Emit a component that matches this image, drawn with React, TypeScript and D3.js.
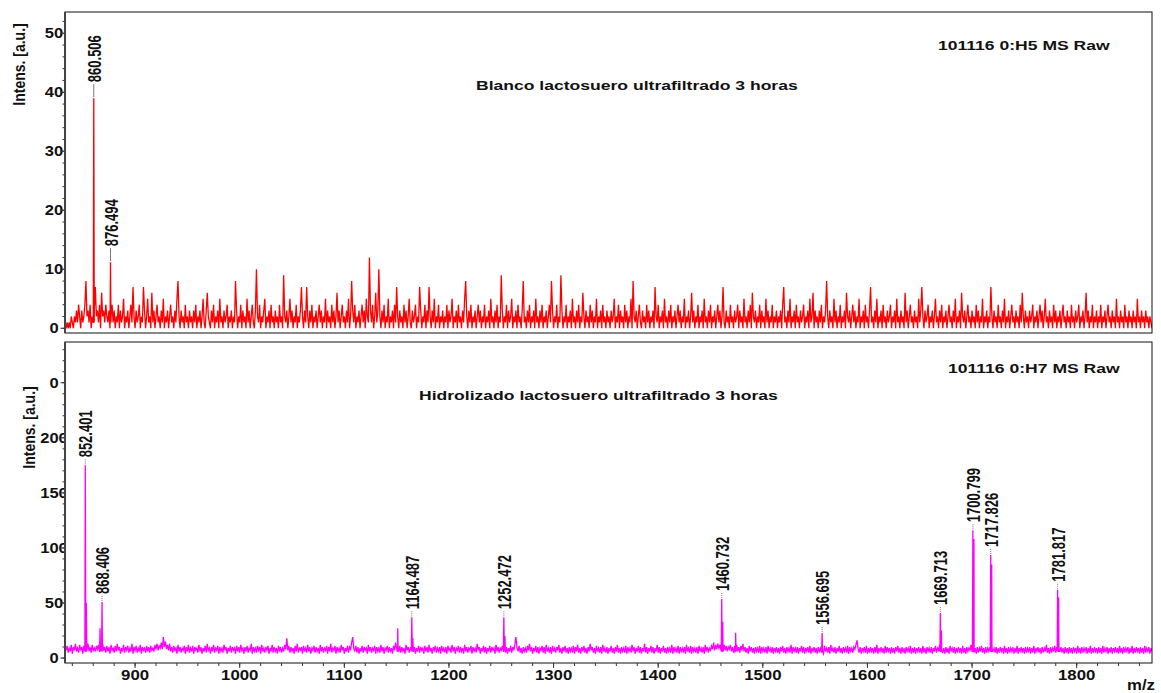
import React from "react";
import * as d3 from "d3";

const W = 1161;
const H = 693;

// Raw noise traces, one value per m/z unit starting at 834
const MZ_START = 834;
const MZ_STEP = 1;

const blancoNoise = [
  0, 1, 0, 1, 0, 2, 1, 0, 2, 1, 3, 1, 4, 2, 0, 3, 1, 2, 4, 8, 2, 3, 1, 4, 0, 2, 1, 3, 7, 2, 3, 1, 4, 0, 6, 2, 3, 1, 4, 2,
  1, 3, 0, 2, 4, 1, 3, 0, 2, 1, 4, 0, 3, 1, 2, 5, 0, 2, 1, 3, 0, 2, 4, 1, 7, 2, 0, 3, 1, 2, 4, 0, 2, 1, 7, 3, 0, 2, 5, 1,
  2, 0, 6, 1, 3, 0, 2, 4, 1, 2, 0, 3, 1, 5, 0, 2, 1, 3, 0, 2, 4, 1, 2, 0, 3, 1, 5, 8, 2, 0, 3, 1, 2, 0, 4, 1, 2, 0, 3, 1,
  2, 0, 3, 1, 4, 0, 2, 1, 3, 0, 2, 5, 1, 0, 3, 6, 2, 1, 0, 3, 1, 4, 0, 2, 1, 3, 0, 5, 1, 2, 0, 3, 1, 2, 4, 0, 2, 1, 3, 0,
  2, 1, 8, 3, 0, 2, 1, 4, 0, 3, 1, 2, 0, 5, 1, 3, 0, 2, 4, 1, 0, 3, 10, 2, 1, 4, 0, 2, 1, 3, 5, 0, 2, 1, 3, 0, 4, 1, 2, 0,
  3, 1, 2, 0, 4, 1, 2, 0, 9, 2, 1, 3, 0, 2, 5, 1, 3, 0, 2, 1, 4, 0, 2, 1, 3, 7, 2, 0, 3, 1, 7, 2, 0, 3, 1, 4, 0, 2, 1, 3,
  0, 2, 4, 1, 3, 0, 2, 1, 5, 0, 3, 1, 2, 0, 4, 1, 3, 0, 2, 6, 1, 3, 0, 2, 4, 1, 2, 0, 3, 1, 5, 0, 2, 8, 3, 1, 4, 0, 2, 1,
  3, 0, 2, 4, 1, 3, 0, 5, 2, 1, 12, 3, 1, 4, 0, 2, 6, 1, 3, 10, 2, 0, 3, 1, 4, 0, 2, 1, 5, 0, 2, 1, 3, 0, 4, 1, 7, 2, 0, 3,
  1, 2, 0, 4, 1, 3, 0, 2, 5, 1, 0, 3, 1, 2, 4, 0, 2, 1, 7, 3, 0, 2, 1, 4, 0, 3, 1, 7, 2, 0, 3, 1, 5, 0, 2, 1, 4, 0, 2, 1,
  3, 0, 2, 1, 4, 0, 3, 1, 2, 5, 0, 2, 1, 3, 0, 4, 1, 2, 0, 3, 1, 5, 8, 2, 0, 3, 1, 4, 0, 2, 1, 3, 0, 2, 4, 1, 3, 0, 2, 1,
  4, 0, 2, 1, 3, 0, 5, 1, 2, 0, 3, 1, 4, 0, 2, 1, 9, 3, 0, 2, 1, 4, 0, 3, 1, 2, 5, 0, 2, 1, 3, 0, 4, 1, 2, 0, 3, 8, 1, 2,
  0, 3, 1, 4, 0, 2, 1, 3, 0, 5, 1, 2, 0, 3, 1, 4, 0, 2, 1, 3, 0, 2, 4, 1, 8, 3, 0, 2, 1, 4, 0, 2, 1, 9, 3, 0, 2, 1, 4, 0,
  2, 1, 3, 0, 5, 1, 2, 0, 3, 1, 4, 0, 2, 1, 6, 2, 0, 3, 1, 2, 0, 4, 1, 3, 0, 2, 1, 5, 0, 2, 1, 3, 0, 4, 1, 2, 0, 3, 1, 2,
  0, 3, 1, 2, 5, 0, 2, 1, 4, 0, 3, 1, 2, 0, 4, 1, 3, 0, 2, 1, 5, 0, 8, 2, 1, 3, 0, 2, 4, 1, 0, 3, 1, 2, 0, 4, 1, 3, 0, 2,
  1, 3, 0, 7, 2, 1, 4, 0, 2, 1, 3, 0, 5, 1, 2, 0, 3, 1, 4, 0, 2, 1, 3, 0, 2, 4, 1, 3, 0, 2, 1, 5, 0, 2, 1, 3, 0, 2, 6, 1,
  3, 0, 2, 1, 4, 0, 2, 1, 3, 0, 5, 1, 2, 0, 3, 1, 4, 0, 2, 1, 3, 0, 2, 4, 1, 3, 0, 2, 7, 1, 0, 3, 1, 2, 0, 4, 1, 2, 0, 3,
  1, 2, 4, 0, 3, 1, 2, 0, 5, 1, 2, 0, 3, 1, 4, 0, 6, 2, 1, 3, 0, 2, 1, 4, 0, 3, 1, 2, 0, 5, 1, 3, 0, 2, 1, 4, 0, 2, 1, 3,
  0, 2, 1, 3, 0, 4, 7, 1, 2, 0, 3, 1, 5, 0, 2, 1, 3, 0, 4, 1, 2, 0, 3, 1, 2, 4, 0, 2, 1, 3, 0, 5, 1, 2, 6, 0, 3, 1, 2, 0,
  3, 1, 4, 0, 2, 1, 3, 8, 2, 0, 3, 1, 2, 0, 5, 1, 3, 0, 2, 1, 4, 0, 2, 1, 3, 0, 6, 2, 1, 3, 0, 2, 4, 1, 3, 0, 2, 1, 5, 0,
  2, 1, 3, 0, 4, 1, 2, 0, 3, 7, 1, 2, 0, 3, 1, 5, 0, 2, 1, 3, 0, 4, 1, 2, 0, 3, 1, 2, 4, 0, 2, 1, 3, 0, 5, 1, 2, 0, 3, 1,
  2, 0, 6, 1, 3, 0, 2, 4, 1, 2, 0, 3, 1, 2, 0, 5, 1, 3, 7, 2, 0, 3, 1, 2, 4, 0, 2, 1, 3, 0, 2, 5, 1, 2, 0, 3, 1, 4, 0, 2,
  1, 3, 0, 2, 4, 1, 2, 0, 3, 1, 5, 0, 2, 1, 3, 0, 6, 2, 1, 3, 0, 2, 4, 1, 2, 0, 3, 1, 2, 0, 4, 1, 3, 0, 2, 1, 5, 0, 2, 1,
  3, 0, 2, 1, 7, 2, 0, 3, 1, 2, 0, 4, 1, 2, 0, 3, 1, 5, 0, 2, 1, 3, 0, 2, 4, 1, 2, 0, 3, 1, 2, 0, 4, 1, 6, 2, 0, 3, 1, 2,
  0, 3, 1, 2, 4, 0, 2, 1, 3, 0, 2, 4, 1, 3, 0, 2, 5, 1, 2, 0, 3, 1, 2, 0, 4, 1, 3, 0, 2, 1, 3, 0, 2, 4, 1, 2, 0, 3, 1, 2,
  0, 4, 1, 2, 0, 3, 1, 2, 4, 0, 2, 1, 3, 0, 2, 6, 1, 3, 0, 2, 1, 4, 0, 2, 1, 3, 0, 2, 1, 4, 0, 2, 1, 3, 0, 2, 4, 1, 2, 0,
  3, 1, 2, 0, 5, 1, 2, 0, 3, 1, 2, 0, 4, 1, 2, 0, 3, 1, 2, 0, 3, 1, 2, 0, 5, 1, 2, 0, 3, 1, 2, 0, 3, 1, 2, 0, 2, 1, 0,
];

const hidroNoise = [
  7, 11, 5, 9, 6, 12, 4, 10, 7, 13, 6, 9, 5, 12, 7, 10, 4, 11, 8, 14, 9, 13, 6, 10, 5, 12, 7, 9, 6, 11, 8, 12, 6, 15, 9, 13, 7, 10, 5, 11,
  6, 10, 4, 12, 7, 9, 5, 11, 6, 13, 7, 10, 4, 9, 6, 12, 5, 10, 7, 11, 5, 9, 6, 13, 4, 10, 7, 11, 5, 9, 6, 12, 4, 10, 7, 9, 5, 11, 6, 10,
  5, 11, 7, 9, 6, 12, 8, 13, 7, 11, 9, 14, 8, 19, 10, 15, 8, 12, 7, 13, 6, 10, 5, 11, 7, 9, 4, 12, 6, 10, 5, 9, 7, 11, 4, 10, 6, 12, 5, 9,
  6, 11, 4, 10, 7, 9, 5, 12, 6, 10, 4, 9, 6, 11, 5, 13, 7, 9, 4, 10, 6, 12, 5, 9, 7, 11, 4, 10, 6, 9, 5, 12, 7, 10, 4, 9, 6, 11, 5, 10,
  7, 9, 4, 11, 6, 10, 5, 12, 7, 9, 4, 10, 6, 11, 5, 9, 7, 13, 4, 10, 6, 9, 5, 11, 7, 10, 4, 12, 6, 9, 5, 10, 7, 11, 4, 9, 6, 12, 5, 10,
  6, 9, 4, 11, 7, 10, 5, 9, 6, 12, 8, 18, 7, 11, 5, 10, 6, 9, 4, 11, 6, 13, 5, 9, 7, 10, 4, 11, 6, 9, 5, 12, 6, 10, 4, 9, 7, 11, 5, 10,
  6, 9, 4, 12, 6, 10, 5, 9, 7, 11, 4, 10, 6, 13, 5, 9, 7, 11, 4, 10, 6, 9, 5, 12, 7, 10, 4, 9, 6, 11, 5, 10, 8, 14, 19, 9, 6, 11, 5, 10,
  4, 9, 6, 11, 5, 10, 7, 9, 4, 12, 6, 10, 5, 9, 7, 11, 4, 10, 6, 9, 5, 12, 6, 10, 4, 9, 7, 11, 5, 10, 6, 9, 4, 11, 7, 14, 9, 10, 6, 11,
  5, 10, 6, 9, 4, 12, 7, 10, 5, 9, 8, 13, 6, 10, 4, 9, 6, 11, 5, 10, 7, 9, 4, 11, 6, 10, 5, 12, 6, 9, 4, 10, 7, 11, 5, 9, 6, 10, 4, 11,
  6, 9, 5, 10, 4, 11, 7, 9, 5, 12, 6, 10, 4, 9, 7, 11, 5, 10, 6, 9, 4, 12, 6, 10, 5, 9, 7, 11, 4, 10, 6, 9, 5, 13, 7, 10, 4, 9, 6, 11,
  5, 10, 4, 9, 6, 11, 5, 10, 7, 9, 4, 12, 6, 10, 5, 9, 7, 11, 6, 13, 5, 10, 4, 9, 6, 11, 5, 10, 7, 12, 19, 10, 6, 11, 5, 9, 4, 10, 6, 9,
  5, 11, 7, 13, 6, 10, 4, 9, 6, 11, 5, 10, 4, 9, 7, 11, 5, 10, 4, 12, 6, 9, 5, 10, 4, 11, 6, 9, 5, 10, 7, 12, 5, 9, 4, 10, 6, 11, 5, 9,
  4, 10, 6, 9, 5, 11, 4, 10, 6, 12, 5, 9, 4, 10, 6, 11, 5, 9, 4, 10, 6, 13, 7, 10, 5, 9, 4, 11, 6, 9, 5, 10, 4, 12, 6, 9, 5, 10, 4, 9,
  6, 11, 5, 9, 4, 10, 6, 12, 5, 9, 4, 10, 6, 9, 5, 11, 4, 10, 6, 9, 5, 12, 6, 10, 4, 9, 6, 11, 5, 10, 4, 9, 6, 13, 5, 10, 4, 9, 6, 11,
  5, 10, 4, 9, 6, 12, 5, 10, 4, 9, 6, 11, 5, 9, 4, 10, 6, 9, 5, 12, 4, 10, 6, 9, 5, 11, 4, 10, 6, 9, 5, 10, 4, 12, 6, 9, 5, 11, 4, 10,
  6, 9, 5, 10, 4, 11, 6, 9, 5, 10, 4, 12, 6, 10, 5, 9, 7, 11, 8, 14, 7, 12, 8, 13, 9, 12, 7, 14, 9, 12, 7, 11, 6, 10, 8, 12, 6, 10, 5, 11,
  7, 12, 6, 10, 5, 11, 7, 13, 6, 10, 5, 9, 4, 11, 6, 10, 5, 9, 4, 10, 6, 9, 5, 11, 4, 10, 6, 9, 5, 10, 4, 11, 6, 9, 5, 10, 4, 9, 6, 10,
  5, 9, 4, 10, 6, 11, 5, 9, 4, 10, 6, 9, 5, 12, 4, 10, 6, 9, 5, 10, 4, 9, 6, 11, 5, 10, 4, 9, 6, 10, 5, 11, 4, 9, 6, 10, 5, 9, 4, 10,
  6, 9, 5, 10, 4, 11, 6, 9, 5, 10, 4, 12, 6, 9, 5, 10, 4, 9, 6, 11, 5, 9, 4, 10, 6, 9, 5, 11, 4, 10, 6, 9, 5, 10, 8, 12, 16, 9, 5, 10,
  4, 9, 6, 10, 5, 11, 4, 9, 5, 10, 6, 9, 4, 10, 5, 12, 4, 9, 6, 10, 5, 9, 4, 11, 5, 10, 6, 9, 4, 10, 5, 9, 4, 10, 6, 11, 5, 9, 4, 10,
  5, 9, 4, 10, 6, 9, 5, 11, 4, 9, 5, 10, 4, 9, 6, 10, 5, 9, 4, 11, 5, 9, 4, 10, 6, 9, 5, 10, 4, 9, 6, 11, 5, 9, 7, 12, 6, 10, 5, 9,
  4, 10, 5, 9, 4, 11, 6, 9, 5, 10, 4, 9, 6, 10, 5, 9, 4, 11, 5, 9, 4, 10, 6, 9, 7, 12, 6, 10, 5, 9, 4, 10, 5, 9, 6, 11, 5, 9, 4, 10,
  5, 9, 6, 10, 7, 12, 6, 9, 5, 10, 4, 9, 5, 10, 6, 9, 4, 11, 5, 9, 4, 10, 5, 9, 6, 10, 4, 9, 5, 11, 4, 9, 6, 10, 5, 9, 4, 10, 5, 9,
  6, 10, 4, 9, 5, 11, 4, 9, 6, 10, 5, 9, 4, 10, 5, 9, 6, 12, 5, 9, 4, 10, 5, 9, 6, 11, 5, 10, 7, 12, 6, 10, 5, 9, 4, 10, 5, 9, 4, 10,
  5, 9, 4, 10, 6, 9, 4, 11, 5, 9, 4, 10, 5, 9, 6, 10, 4, 9, 5, 11, 4, 9, 5, 10, 6, 9, 4, 10, 5, 9, 4, 11, 5, 9, 6, 10, 4, 9, 5, 10,
  4, 9, 6, 10, 5, 9, 4, 11, 5, 9, 4, 10, 5, 9, 6, 10, 4, 9, 5, 11, 4, 9, 5, 10, 6, 9, 4, 10, 5, 9, 4, 11, 5, 9, 6, 10, 4, 9, 6,
];

// Resolved peaks (m/z, intensity)
const blancoPeakMz = [860.506, 876.494];
const blancoPeakInt = [39, 11.2];
const blancoLabeled = [860.506, 876.494];

const hidroPeakMz = [
  852.401, 853.4, 866.5, 868.406, 1151, 1164.487, 1165.5, 1252.472, 1253.5,
  1460.732, 1461.7, 1474, 1556.695, 1669.713, 1670.7, 1700.799, 1701.8,
  1717.826, 1718.8, 1781.817, 1782.8,
];
const hidroPeakInt = [
  175, 50, 27, 51, 27, 37, 18, 37, 20, 53.6, 33, 23, 22.7, 41, 25, 116, 108,
  93.6, 85, 62, 55,
];
const hidroLabeled = [
  852.401, 868.406, 1164.487, 1252.472, 1460.732, 1556.695, 1669.713,
  1700.799, 1717.826, 1781.817,
];

// Axis ticks
const xMajorTicks = [900, 1000, 1100, 1200, 1300, 1400, 1500, 1600, 1700, 1800];
const xMinorTicks = d3.range(840, 1871, 20);
const blancoYTicks = [0, 10, 20, 30, 40, 50];
const blancoYTickLabels = ["0", "10", "20", "30", "40", "50"];
const blancoYMinor = d3.range(0, 53, 2);
const hidroYTicks = [0, 50, 100, 150, 200, 250];
const hidroYTickLabels = ["0", "50", "100", "150", "200", "0"];
const hidroYMinor = d3.range(0, 281, 10);

const MZ_DOMAIN: [number, number] = [833, 1872];
const LEFT = 65;
const RIGHT = 1152;
const FONT = "'Liberation Sans', Arial, Helvetica, sans-serif";
const SX = 1.35; // glyph widening used throughout the spectra labels

type PanelProps = {
  id: string;
  top: number;
  bottom: number;
  yDomain: [number, number];
  noise: number[];
  peakMz: number[];
  peakInt: number[];
  labeled: number[];
  base: number;
  color: string;
  yTicks: number[];
  yTickLabels: string[];
  yMinor: number[];
  yTitleX: number;
  yTitleY: number;
  labelGap: number;
  leaderLen: number;
  leaderDash?: string;
  runTitle: string;
  runTitleX: number;
  runTitleY: number;
  sampleTitle: string;
  sampleTitleX: number;
  sampleTitleY: number;
  showX: boolean;
};

function Panel(p: PanelProps) {
  const x = d3.scaleLinear().domain(MZ_DOMAIN).range([LEFT, RIGHT]);
  const y = d3.scaleLinear().domain(p.yDomain).range([p.bottom, p.top]);

  const pts: [number, number][] = p.noise.map((v, i) => [MZ_START + i * MZ_STEP, v]);
  p.peakMz.forEach((mz, i) => {
    pts.push([mz - 0.45, p.base]);
    pts.push([mz, p.peakInt[i]]);
    pts.push([mz + 0.45, p.base]);
  });
  pts.sort((a, b) => a[0] - b[0]);

  const line = d3
    .line<[number, number]>()
    .x((d) => x(d[0]))
    .y((d) => y(d[1]));

  return (
    <g>
      <defs>
        <clipPath id={`clip-${p.id}`}>
          <rect x={LEFT} y={p.top} width={RIGHT - LEFT} height={p.bottom - p.top} />
        </clipPath>
      </defs>

      {/* y tick labels (drawn first so the plot area masks overflow) */}
      {p.yTicks.map((t, i) => (
        <text
          key={`yl${t}`}
          transform={`translate(54,${y(t) + 5}) scale(1.18,1)`}
          textAnchor="middle"
          fontSize={14}
          fontWeight="bold"
          fontFamily={FONT}
          fill="#111"
        >
          {p.yTickLabels[i]}
        </text>
      ))}

      {/* y axis minor & major ticks */}
      {p.yMinor.map((t) => (
        <line key={`ym${t}`} x1={LEFT - 2.5} x2={LEFT} y1={y(t)} y2={y(t)} stroke="#333" strokeWidth={1} />
      ))}
      {p.yTicks.map((t) => (
        <line key={`yM${t}`} x1={LEFT - 4.5} x2={LEFT} y1={y(t)} y2={y(t)} stroke="#333" strokeWidth={1} />
      ))}

      <rect x={LEFT} y={p.top} width={RIGHT - LEFT} height={p.bottom - p.top} fill="#fff" />

      <path
        d={line(pts) || ""}
        fill="none"
        stroke={p.color}
        strokeWidth={1.3}
        strokeLinejoin="miter"
        clipPath={`url(#clip-${p.id})`}
      />

      {/* frame */}
      <rect x={LEFT} y={p.top} width={RIGHT - LEFT} height={p.bottom - p.top} fill="none" stroke="#111" strokeWidth={1} />
      <line x1={LEFT} x2={LEFT} y1={p.top} y2={p.bottom} stroke="#444" strokeWidth={2} />

      {/* peak labels */}
      {p.labeled.map((mz) => {
        const idx = p.peakMz.indexOf(mz);
        const py = y(p.peakInt[idx]);
        const px = x(mz);
        return (
          <g key={`pl${mz}`}>
            <line
              x1={px}
              x2={px}
              y1={py - 1}
              y2={py - 1 - p.leaderLen}
              stroke="#777"
              strokeWidth={1}
              strokeDasharray={p.leaderDash}
            />
            <text
              transform={`translate(${px + 7},${py - p.labelGap}) scale(${SX},1) rotate(-90)`}
              fontSize={13}
              fontWeight="bold"
              fontFamily={FONT}
              fill="#111"
            >
              {mz.toFixed(3)}
            </text>
          </g>
        );
      })}

      {/* titles */}
      <text
        transform={`translate(${p.runTitleX},${p.runTitleY}) scale(${SX},1)`}
        fontSize={13}
        fontWeight="bold"
        fontFamily={FONT}
        fill="#111"
      >
        {p.runTitle}
      </text>
      <text
        transform={`translate(${p.sampleTitleX},${p.sampleTitleY}) scale(${SX},1)`}
        fontSize={13}
        fontWeight="bold"
        fontFamily={FONT}
        fill="#111"
      >
        {p.sampleTitle}
      </text>

      {/* y axis title */}
      <text
        transform={`translate(${p.yTitleX},${p.yTitleY}) scale(1.2,1) rotate(-90)`}
        textAnchor="middle"
        fontSize={14}
        fontWeight="bold"
        fontFamily={FONT}
        fill="#111"
      >
        Intens. [a.u.]
      </text>

      {p.showX && (
        <g>
          {xMinorTicks.map((t) => (
            <line key={`xm${t}`} x1={x(t)} x2={x(t)} y1={p.bottom} y2={p.bottom + 3} stroke="#333" strokeWidth={1} />
          ))}
          {xMajorTicks.map((t) => (
            <g key={`xM${t}`}>
              <line x1={x(t)} x2={x(t)} y1={p.bottom} y2={p.bottom + 5} stroke="#333" strokeWidth={1} />
              <text
                transform={`translate(${x(t)},680) scale(1.2,1)`}
                textAnchor="middle"
                fontSize={14}
                fontWeight="bold"
                fontFamily={FONT}
                fill="#111"
              >
                {t}
              </text>
            </g>
          ))}
          <text
            transform={`translate(1127,690) scale(1.2,1)`}
            fontSize={14}
            fontWeight="bold"
            fontFamily={FONT}
            fill="#111"
          >
            m/z
          </text>
        </g>
      )}
    </g>
  );
}

export default function App() {
  return (
    <svg
      width={W}
      height={H}
      viewBox={`0 0 ${W} ${H}`}
      style={{ position: "absolute", left: 0, top: 0, background: "#fff" }}
    >
      <rect width={W} height={H} fill="#fff" />
      <Panel
        id="blanco"
        top={12}
        bottom={333}
        yDomain={[-0.8, 53.6]}
        noise={blancoNoise}
        peakMz={blancoPeakMz}
        peakInt={blancoPeakInt}
        labeled={blancoLabeled}
        base={1}
        color="#ff0000"
        yTicks={blancoYTicks}
        yTickLabels={blancoYTickLabels}
        yMinor={blancoYMinor}
        yTitleX={25}
        yTitleY={64.5}
        labelGap={16}
        leaderLen={13}
        runTitle="101116 0:H5 MS Raw"
        runTitleX={938}
        runTitleY={50}
        sampleTitle="Blanco lactosuero ultrafiltrado 3 horas"
        sampleTitleX={476}
        sampleTitleY={90}
        showX={false}
      />
      <Panel
        id="hidro"
        top={342}
        bottom={663}
        yDomain={[-4.5, 287]}
        noise={hidroNoise}
        peakMz={hidroPeakMz}
        peakInt={hidroPeakInt}
        labeled={hidroLabeled}
        base={6}
        color="#ff00ff"
        yTicks={hidroYTicks}
        yTickLabels={hidroYTickLabels}
        yMinor={hidroYMinor}
        yTitleX={35}
        yTitleY={427.5}
        labelGap={8}
        leaderLen={5}
        leaderDash="1,1"
        runTitle="101116 0:H7 MS Raw"
        runTitleX={948}
        runTitleY={373}
        sampleTitle="Hidrolizado lactosuero ultrafiltrado 3 horas"
        sampleTitleX={419}
        sampleTitleY={400}
        showX={true}
      />
    </svg>
  );
}
